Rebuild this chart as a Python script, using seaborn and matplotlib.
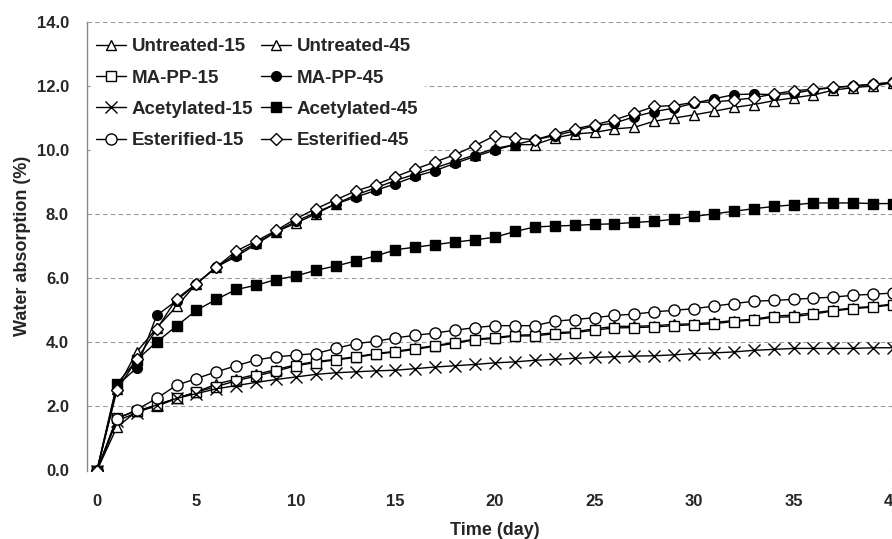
import matplotlib
matplotlib.use("Agg")
import matplotlib.pyplot as plt
import seaborn as sns
from matplotlib.ticker import MultipleLocator

# Datos (absorción de agua, %)
days = list(range(41))

untreated_15 = [0, 1.35, 1.85, 2.0, 2.25, 2.45, 2.7, 2.85, 3.0, 3.15, 3.3, 3.4, 3.47, 3.55, 3.65,
                3.72, 3.81, 3.9, 4.0, 4.1, 4.15, 4.22, 4.24, 4.3, 4.33, 4.42, 4.5, 4.5, 4.52, 4.56,
                4.58, 4.62, 4.68, 4.72, 4.82, 4.85, 4.92, 5.0, 5.08, 5.12, 5.2]
untreated_45 = [0, 2.55, 3.7, 4.45, 5.12, 5.83, 6.35, 6.75, 7.1, 7.45, 7.72, 8.01, 8.32, 8.6, 8.82,
                9.05, 9.25, 9.45, 9.65, 9.85, 10.05, 10.17, 10.17, 10.38, 10.5, 10.55, 10.66, 10.71,
                10.9, 11.0, 11.1, 11.21, 11.33, 11.42, 11.54, 11.63, 11.72, 11.87, 11.95, 12.0, 12.1]
mapp_15 = [0, 1.65, 1.85, 2.05, 2.25, 2.45, 2.62, 2.8, 2.95, 3.1, 3.27, 3.37, 3.45, 3.53, 3.63,
           3.7, 3.78, 3.88, 3.97, 4.08, 4.12, 4.2, 4.2, 4.27, 4.3, 4.38, 4.45, 4.46, 4.48, 4.52,
           4.55, 4.58, 4.65, 4.7, 4.78, 4.8, 4.88, 4.98, 5.05, 5.1, 5.17]
mapp_45 = [0, 2.65, 3.2, 4.84, 5.3, 5.83, 6.35, 6.68, 7.06, 7.45, 7.78, 8.05, 8.32, 8.53, 8.74,
           8.95, 9.18, 9.36, 9.59, 9.8, 10.0, 10.17, 10.32, 10.45, 10.6, 10.76, 10.84, 11.04, 11.2,
           11.31, 11.46, 11.6, 11.73, 11.75, 11.73, 11.77, 11.88, 11.95, 12.0, 12.05, 12.12]
acet_15 = [0, 1.55, 1.8, 2.05, 2.25, 2.4, 2.55, 2.65, 2.75, 2.84, 2.92, 3.0, 3.05, 3.08, 3.11,
           3.13, 3.18, 3.23, 3.27, 3.31, 3.36, 3.39, 3.44, 3.47, 3.5, 3.53, 3.55, 3.57, 3.58, 3.61,
           3.65, 3.67, 3.7, 3.75, 3.78, 3.81, 3.81, 3.81, 3.81, 3.83, 3.83]
acet_45 = [0, 2.7, 3.45, 4.01, 4.51, 5.0, 5.34, 5.65, 5.78, 5.96, 6.07, 6.25, 6.38, 6.54, 6.69,
           6.89, 6.97, 7.05, 7.13, 7.2, 7.28, 7.46, 7.6, 7.63, 7.65, 7.68, 7.7, 7.74, 7.78, 7.84,
           7.93, 8.01, 8.09, 8.17, 8.24, 8.29, 8.35, 8.35, 8.35, 8.33, 8.33]
ester_15 = [0, 1.6, 1.9, 2.25, 2.66, 2.87, 3.08, 3.27, 3.45, 3.55, 3.6, 3.65, 3.81, 3.96, 4.03,
            4.14, 4.22, 4.29, 4.38, 4.46, 4.52, 4.52, 4.52, 4.66, 4.71, 4.77, 4.84, 4.88, 4.95,
            5.0, 5.05, 5.13, 5.21, 5.28, 5.31, 5.34, 5.38, 5.41, 5.47, 5.5, 5.54]
ester_45 = [0, 2.5, 3.47, 4.41, 5.36, 5.83, 6.35, 6.85, 7.16, 7.49, 7.86, 8.17, 8.45, 8.72, 8.92,
            9.17, 9.41, 9.63, 9.86, 10.14, 10.45, 10.38, 10.32, 10.5, 10.66, 10.79, 10.94, 11.15,
            11.36, 11.39, 11.49, 11.5, 11.56, 11.63, 11.75, 11.85, 11.9, 11.96, 12.0, 12.06, 12.11]

labels = ['Untreated-15', 'Untreated-45', 'MA-PP-15', 'MA-PP-45',
          'Acetylated-15', 'Acetylated-45', 'Esterified-15', 'Esterified-45']

sns.set_style("white")
plt.rcParams['font.family'] = ['Liberation Sans', 'DejaVu Sans']
plt.rcParams['font.weight'] = 'bold'

fig = plt.figure(figsize=(8.92, 5.39), dpi=100)
ax = fig.add_axes([87 / 892, 68.5 / 539, 816 / 892, 448.6 / 539])

# (serie, marcador, relleno, tamaño)
series = [
    (untreated_15, '^', 'white', 7),
    (untreated_45, '^', 'white', 6.5),
    (mapp_15, 's', 'white', 7),
    (mapp_45, 'o', 'black', 7),
    (acet_15, 'x', 'black', 8),
    (acet_45, 's', 'black', 7),
    (ester_15, 'o', 'white', 8),
    (ester_45, 'D', 'white', 6.5),
]

for (vals, mk, fc, ms), lab in zip(series, labels):
    sns.lineplot(x=days, y=vals, ax=ax, color='black', linewidth=1.0,
                 marker=mk, markersize=ms, markerfacecolor=fc,
                 markeredgecolor='black', markeredgewidth=1.0, label=lab)

ax.set_xlim(-0.5, 40.5)
ax.set_ylim(0, 14)
ax.xaxis.set_major_locator(MultipleLocator(5))
ax.xaxis.set_minor_locator(MultipleLocator(1))
ax.yaxis.set_major_locator(MultipleLocator(2))
ax.set_yticklabels([f'{v:.1f}' for v in ax.get_yticks()])

ax.grid(axis='y', color='#9a9a9a', linestyle=(0, (4, 3)), linewidth=0.8)
ax.set_axisbelow(True)
for s in ['top', 'right', 'bottom']:
    ax.spines[s].set_visible(False)
ax.spines['left'].set_color('#888888')
ax.spines['left'].set_linewidth(1.0)

ax.tick_params(axis='y', which='major', length=4, color='#888888', labelsize=12, pad=9)
ax.tick_params(axis='x', which='major', length=3, color='#aaaaaa', labelsize=12, pad=14)
ax.tick_params(axis='x', which='minor', length=3, color='#aaaaaa')

ax.set_xlabel('Time (day)', fontsize=13, fontweight='bold', labelpad=9)
ax.set_ylabel('Water absorption (%)', fontsize=13, fontweight='bold', labelpad=4)

# leyenda por filas: columna izquierda -15, derecha -45
handles, labs = ax.get_legend_handles_labels()
order = [0, 2, 4, 6, 1, 3, 5, 7]
leg = ax.legend([handles[i] for i in order], [labs[i] for i in order],
                ncol=2, loc='upper left', bbox_to_anchor=(0.0, 0.985),
                frameon=True, fontsize=13.5, handlelength=1.6, handletextpad=0.3,
                columnspacing=0.4, labelspacing=0.76, borderpad=0.3, borderaxespad=0.2)
leg.get_frame().set_edgecolor('white')
leg.get_frame().set_facecolor('white')
leg.get_frame().set_alpha(1.0)
for t in leg.get_texts():
    t.set_fontweight('bold')

fig.savefig('out.png', dpi=100)
